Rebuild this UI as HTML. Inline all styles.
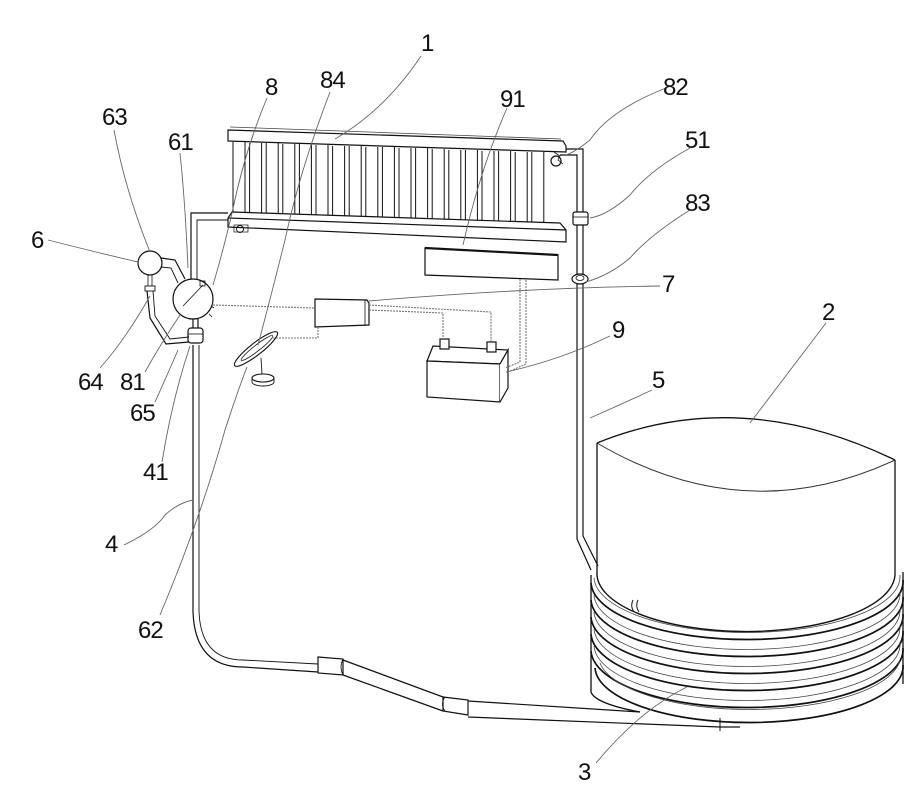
<!DOCTYPE html>
<html><head><meta charset="utf-8"><style>
html,body{margin:0;padding:0;background:#fff;}
svg{display:block;}
text{font-family:"Liberation Sans","DejaVu Sans",sans-serif;font-size:24px;fill:#111;letter-spacing:-1px;}
</style></head><body>
<svg width="924" height="794" viewBox="0 0 924 794" xmlns="http://www.w3.org/2000/svg">
<rect width="924" height="794" fill="#fff"/>

<!-- ===== Coil 3 ===== -->
<g fill="none" stroke="#111">
  <path d="M591,575 L591,692 A156,30 0 0 0 640,712" stroke-width="1.3"/>
  <path d="M903,572 L903,684" stroke-width="1.3"/>
  <g stroke-width="1.7">
    <path d="M591,583 A156,58 0 0 0 903,580"/>
    <path d="M591,600 A156,58 0 0 0 903,597"/>
    <path d="M591,617 A156,58 0 0 0 903,614"/>
    <path d="M591,634 A156,58 0 0 0 903,631"/>
    <path d="M591,651 A156,58 0 0 0 903,648"/>
    <path d="M595,668 A154,56 0 0 0 903,665"/>
  </g>
  <g stroke-width="0.8" stroke="#444">
    <path d="M594,578 A153,56 0 0 0 900,575"/>
    <path d="M594,595 A153,56 0 0 0 900,592"/>
    <path d="M594,612 A153,56 0 0 0 900,609"/>
    <path d="M594,629 A153,56 0 0 0 900,626"/>
    <path d="M594,646 A153,56 0 0 0 900,643"/>
    <path d="M600,663 A151,54 0 0 0 900,660"/>
  </g>
</g>

<!-- ===== Tank 2 ===== -->
<path d="M597,443 Q740,385 895,460 L895,575 A149,58 0 0 1 597,572 Z" fill="#fff" stroke="none"/>
<g fill="none" stroke="#111" stroke-width="1.3">
  <path d="M597,443 Q740,385 895,460"/>
  <path d="M597,443 Q745,530 895,460" stroke-width="1" stroke="#333"/>
  <path d="M597,443 L597,572"/>
  <path d="M895,460 L895,575"/>
  <path d="M597,572 A149,58 0 0 0 895,575" stroke-width="1.4"/>
  <path d="M633,600 Q630,606 634,612 M638,600 Q635,606 639,612" stroke-width="1"/>
</g>

<!-- ===== Pipe 5 (right) ===== -->
<g fill="none" stroke="#111" stroke-width="1.2">
  <path d="M560,149 L583,149 L583,536 L598,566"/>
  <path d="M560,155 L577,155 L577,539 L591,570"/>
  <rect x="573" y="212" width="15" height="13" rx="2" fill="#fff"/>
  <path d="M573,217 L588,217" stroke-width="0.8"/>
  <ellipse cx="580" cy="279" rx="8" ry="5" fill="#fff"/>
  <ellipse cx="580" cy="278" rx="4" ry="2.5" stroke-width="0.8"/>
</g>

<!-- ===== Pipe 4 (left / bottom) ===== -->
<g fill="none" stroke="#111" stroke-width="1.2">
  <path d="M193,345 L193,612 Q195,667 243,667 L318,672"/>
  <path d="M199,345 L199,612 Q201,660 243,660 L318,664" stroke-width="0.9"/>
  <path d="M318,657 L343,659 L343,675 L318,673 Z" fill="#fff"/>
  <path d="M343,659 Q339,667 343,675" stroke-width="0.8"/>
  <path d="M343,660 L443,697"/>
  <path d="M343,675 L443,711"/>
  <path d="M443,697 L468,700 L468,715 L443,711 Z" fill="#fff"/>
  <path d="M445,697 Q440,704 445,711" stroke-width="0.8"/>
  <path d="M468,701 L640,712"/>
  <path d="M468,717 L720,727 L740,727"/>
  <path d="M720,718 L720,731" stroke-width="1"/>
</g>

<!-- ===== Collector 1 ===== -->
<g fill="none" stroke="#111" stroke-width="1.2">
  <path d="M228,130 L563,141 L566,146 L566,152 L228,141 Z" fill="#fff"/>
  <path d="M230,127 L561,139" stroke-width="0.8" stroke="#444"/>
  <g stroke-width="1">
    <path d="M233,142 L233,212 Q233,217 239,217 Q245,217 245,212 L245,142"/>
    <path d="M249.6,143 L249.6,213 Q249.6,218 255.6,218 Q261.6,218 261.6,213 L261.6,143"/>
    <path d="M266.2,143 L266.2,213 Q266.2,218 272.2,218 Q278.2,218 278.2,213 L278.2,143"/>
    <path d="M282.8,144 L282.8,214 Q282.8,219 288.8,219 Q294.8,219 294.8,214 L294.8,144"/>
    <path d="M299.4,144 L299.4,214 Q299.4,219 305.4,219 Q311.4,219 311.4,214 L311.4,144"/>
    <path d="M316,145 L316,215 Q316,220 322,220 Q328,220 328,215 L328,145"/>
    <path d="M332.6,146 L332.6,215 Q332.6,220 338.6,220 Q344.6,220 344.6,215 L344.6,146"/>
    <path d="M349.2,146 L349.2,216 Q349.2,221 355.2,221 Q361.2,221 361.2,216 L361.2,146"/>
    <path d="M365.8,147 L365.8,216 Q365.8,221 371.8,221 Q377.8,221 377.8,216 L377.8,147"/>
    <path d="M382.4,147 L382.4,217 Q382.4,222 388.4,222 Q394.4,222 394.4,217 L394.4,147"/>
    <path d="M399,148 L399,217 Q399,222 405,222 Q411,222 411,217 L411,148"/>
    <path d="M415.6,148 L415.6,218 Q415.6,223 421.6,223 Q427.6,223 427.6,218 L427.6,148"/>
    <path d="M432.2,149 L432.2,218 Q432.2,223 438.2,223 Q444.2,223 444.2,218 L444.2,149"/>
    <path d="M448.8,150 L448.8,219 Q448.8,224 454.8,224 Q460.8,224 460.8,219 L460.8,150"/>
    <path d="M465.4,150 L465.4,219 Q465.4,224 471.4,224 Q477.4,224 477.4,219 L477.4,150"/>
    <path d="M482,151 L482,220 Q482,225 488,225 Q494,225 494,220 L494,151"/>
    <path d="M498.6,151 L498.6,220 Q498.6,225 504.6,225 Q510.6,225 510.6,220 L510.6,151"/>
    <path d="M515.2,152 L515.2,221 Q515.2,226 521.2,226 Q527.2,226 527.2,221 L527.2,152"/>
    <path d="M531.8,152 L531.8,221 Q531.8,226 537.8,226 Q543.8,226 543.8,221 L543.8,152"/>
  </g>
  <path d="M232,212 L560,223 L566,230 L566,242 L228,227 L228,218 Z" fill="#fff"/>
  <path d="M228,218 L566,230"/>
  <circle cx="240" cy="229" r="3.5" stroke-width="0.9"/>
  <rect x="234" y="225" width="14" height="7" stroke-width="0.7"/>
  <circle cx="556" cy="161" r="5" fill="#fff"/>
  <path d="M554,152 L560,156 L558,160 L563,164" stroke-width="0.8"/>
</g>

<!-- left pipe from collector to 61 -->
<g fill="none" stroke="#111" stroke-width="1.2">
  <path d="M228,213 L191,213 L191,281"/>
  <path d="M228,220 L197,220 L197,279" stroke-width="0.9"/>
  <circle cx="193" cy="299" r="20" fill="#fff"/>
  <path d="M183,306 L203,285" stroke-width="0.8"/>
  <rect x="200" y="281" width="5" height="5" stroke-width="0.8"/>
  <path d="M211,306 L214,308 M209,314 L212,317" stroke-width="0.8"/>
  <path d="M193,319 L193,328 M198,319 L198,328"/>
  <rect x="188" y="328" width="15" height="15" rx="3" fill="#fff"/>
  <path d="M188,334 L203,334" stroke-width="0.8"/>
  <circle cx="150" cy="263" r="12" fill="#fff"/>
  <path d="M161,258 L175,260 L185,279"/>
  <path d="M161,267 L171,268 L178,283" stroke-width="0.9"/>
  <path d="M158,254 Q166,263 158,272" stroke-width="0.8"/>
  <rect x="145" y="286" width="10" height="5" stroke-width="0.9"/>
  <path d="M148,275 L148,286 M152,275 L152,286" stroke-width="0.8"/>
  <path d="M147,291 L150,318 L166,344 L189,342"/>
  <path d="M153,291 L155,316 L170,339 L189,337" stroke-width="0.9"/>
</g>

<!-- ===== Controller 7 ===== -->
<g fill="none" stroke="#111" stroke-width="1.2">
  <path d="M315,299 L367,300 L369,303 L369,325 L315,327 Z" fill="#fff"/>
  <path d="M365,300 L365,326" stroke-width="0.8"/>
</g>

<!-- ===== Box 91 ===== -->
<path d="M425,248 L558,255 L558,280 L425,275 Z" fill="#fff" stroke="#111" stroke-width="1.2"/>
<path d="M425,248 L558,255" stroke="#111" stroke-width="2.2"/>

<!-- ===== Battery 9 ===== -->
<g fill="none" stroke="#111" stroke-width="1.2">
  <path d="M427,361 L433,346 L508,350 L500,364 Z" fill="#fff"/>
  <path d="M427,361 L500,364 L500,402 L427,397 Z" fill="#fff"/>
  <path d="M500,364 L508,350 L508,388 L500,402" fill="#fff"/>
  <rect x="440" y="339" width="9" height="10" fill="#fff"/>
  <rect x="487" y="342" width="9" height="10" fill="#fff"/>
</g>

<!-- ===== Dish 62 ===== -->
<g fill="none" stroke="#111" stroke-width="1.1">
  <ellipse cx="256" cy="349" rx="27" ry="6" transform="rotate(-38 256 349)" fill="#fff"/>
  <ellipse cx="257" cy="348" rx="20" ry="3" transform="rotate(-38 257 348)" stroke-width="0.8"/>
  <path d="M261,358 L262,374" stroke-width="0.9"/>
  <ellipse cx="263" cy="378" rx="11" ry="4" fill="#fff"/>
  <path d="M252,378 L252,382 A11,4 0 0 0 274,382 L274,378" stroke-width="0.9"/>
</g>

<!-- ===== Wires (dotted) ===== -->
<g fill="none" stroke="#777" stroke-width="1.1" stroke-dasharray="2 1">
  <path d="M213,305 L315,308"/>
  <path d="M318,327 L318,338 L272,338"/>
  <path d="M369,310 L443,313 L443,339"/>
  <path d="M369,305 L491,312 L491,342"/>
  <path d="M520,279 L520,362 L505,368"/>
  <path d="M526,280 L526,364 L508,372"/>
</g>

<!-- ===== Leader lines ===== -->
<g fill="none" stroke="#666" stroke-width="0.9">
  <path d="M421,56 Q385,110 335,139"/>
  <path d="M330,92 Q300,170 285,240 Q270,300 258,345"/>
  <path d="M267,98 Q245,150 232,213 Q222,255 213,285"/>
  <path d="M507,108 Q480,170 463,245"/>
  <path d="M666,88 Q610,110 590,140 Q575,152 566,155"/>
  <path d="M690,148 Q650,170 630,195 Q608,215 590,218"/>
  <path d="M690,210 Q650,235 630,258 Q610,275 586,282"/>
  <path d="M660,286 Q520,288 369,301"/>
  <path d="M114,130 Q125,190 150,252"/>
  <path d="M180,153 Q185,200 188,268"/>
  <path d="M48,240 Q95,252 138,262"/>
  <path d="M100,368 Q125,340 150,296"/>
  <path d="M145,372 Q160,345 180,315"/>
  <path d="M155,402 Q165,380 178,350"/>
  <path d="M162,462 Q172,400 190,346"/>
  <path d="M124,545 Q155,530 165,515 Q178,503 193,500"/>
  <path d="M160,615 Q200,520 225,430 Q238,390 247,367"/>
  <path d="M826,323 Q790,370 750,423"/>
  <path d="M610,336 Q560,360 506,372"/>
  <path d="M652,390 Q620,405 590,418"/>
  <path d="M596,763 Q640,710 687,687"/>
</g>

<!-- ===== Labels ===== -->
<text x="421" y="51">1</text>
<text x="320" y="88">84</text>
<text x="265" y="95">8</text>
<text x="500" y="107">91</text>
<text x="663" y="95">82</text>
<text x="102" y="125">63</text>
<text x="168" y="150">61</text>
<text x="685" y="148">51</text>
<text x="685" y="211">83</text>
<text x="31" y="248">6</text>
<text x="662" y="292">7</text>
<text x="822" y="320">2</text>
<text x="612" y="338">9</text>
<text x="78" y="390">64</text>
<text x="120" y="390">81</text>
<text x="652" y="388">5</text>
<text x="130" y="421">65</text>
<text x="143" y="480">41</text>
<text x="105" y="552">4</text>
<text x="138" y="638">62</text>
<text x="578" y="780">3</text>
</svg>
</body></html>
